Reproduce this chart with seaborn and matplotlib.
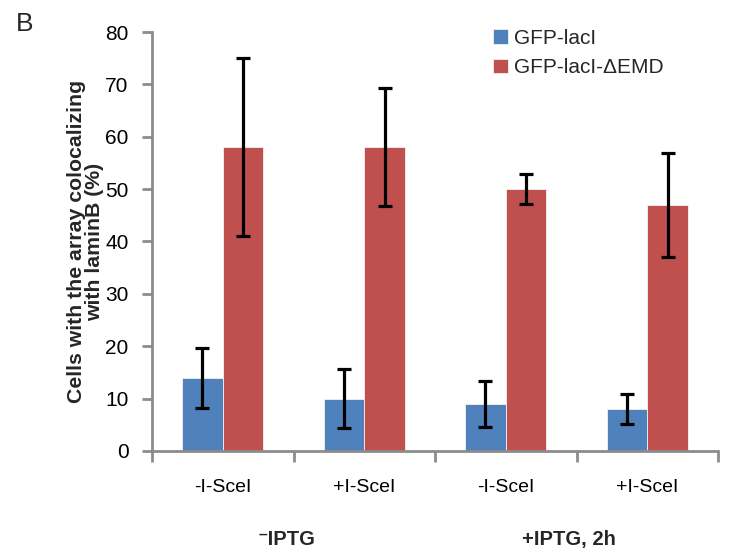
import numpy as np
import pandas as pd
import matplotlib
matplotlib.use("Agg")
import matplotlib.pyplot as plt
import matplotlib.transforms as mtransforms
from matplotlib.ticker import MultipleLocator, FixedLocator
import seaborn as sns

sns.set_theme(style="white")
plt.rcParams["font.family"] = ["Liberation Sans", "DejaVu Sans"]

# data
conditions = ["c1", "c2", "c3", "c4"]
tick_labels = ["-I-SceI", "+I-SceI", "-I-SceI", "+I-SceI"]
group_labels = ["\u207bIPTG", "+IPTG, 2h"]
series = ["GFP-lacI", "GFP-lacI-\u0394EMD"]
gfp_laci = [14, 10, 9, 8]
gfp_laci_err = [5.7, 5.6, 4.4, 2.9]
gfp_laci_demd = [58, 58, 50, 47]
gfp_laci_demd_err = [17, 11.3, 2.8, 9.9]

colors = ["#4F81BD", "#C0504D"]

df = pd.DataFrame({
    "cond": conditions * 2,
    "series": [series[0]] * 4 + [series[1]] * 4,
    "value": gfp_laci + gfp_laci_demd,
})

fig = plt.figure(figsize=(7.29, 5.55), dpi=100)
ax = fig.add_axes([152 / 729, 104 / 555, 566 / 729, 419 / 555])

sns.barplot(
    data=df, x="cond", y="value", hue="series",
    order=conditions, hue_order=series,
    palette=colors, saturation=1, width=0.575, gap=0,
    edgecolor="#f2f2f2", linewidth=0.6,
    ax=ax, errorbar=None,
)

# error bars on top of each bar
for container, vals, errs in zip(ax.containers,
                                 [gfp_laci, gfp_laci_demd],
                                 [gfp_laci_err, gfp_laci_demd_err]):
    xs = [b.get_x() + b.get_width() / 2 for b in container]
    ax.errorbar(xs, vals, yerr=errs, fmt="none", ecolor="black",
                elinewidth=2.3, capsize=5, capthick=2.3, zorder=5)

ax.set_xlim(-0.5, 3.5)
ax.set_ylim(0, 80)
ax.yaxis.set_major_locator(MultipleLocator(10))

ax.set_xticks(range(len(conditions)))
ax.set_xticklabels(tick_labels, fontsize=14)
ax.xaxis.set_minor_locator(FixedLocator(np.arange(-0.5, 4, 1)))
ax.tick_params(axis="x", which="major", length=0, pad=20, colors="black")
ax.tick_params(axis="x", which="minor", bottom=True, length=8,
               width=2, color="#8c8c8c", direction="out")
ax.tick_params(axis="y", left=True, length=7, width=2, color="#8c8c8c",
               direction="out", labelsize=15, pad=10, labelcolor="black")
ax.set_xlabel("")

for side in ["top", "right"]:
    ax.spines[side].set_visible(False)
for side in ["left", "bottom"]:
    ax.spines[side].set_color("#8c8c8c")
    ax.spines[side].set_linewidth(2)

ax.set_ylabel("Cells with the array colocalizing\nwith laminB (%)",
              fontsize=15.3, fontweight="bold", linespacing=0.92)
ax.yaxis.set_label_coords(-0.117, 0.5)
ax.yaxis.label.set_verticalalignment("center")

# group labels under the tick labels
trans = mtransforms.blended_transform_factory(ax.transData, ax.transAxes)
for pos, lab in zip([0.5, 2.5], group_labels):
    ax.text(pos - 0.05, -0.212, lab, transform=trans, ha="center",
            va="center", fontsize=14.5, fontweight="bold")

handles, labels = ax.get_legend_handles_labels()
ax.legend(handles, labels, loc="upper left",
          bbox_to_anchor=(493 / 729, 1 - 29 / 555),
          bbox_transform=fig.transFigure, frameon=False, fontsize=15,
          handlelength=0.7, handleheight=0.7, handletextpad=0.3,
          labelspacing=0.5, borderpad=0, borderaxespad=0)

fig.text(16 / 729, 1 - 24 / 555, "B", fontsize=19, ha="left", va="center")

fig.savefig("out.png", dpi=100, facecolor="white")
